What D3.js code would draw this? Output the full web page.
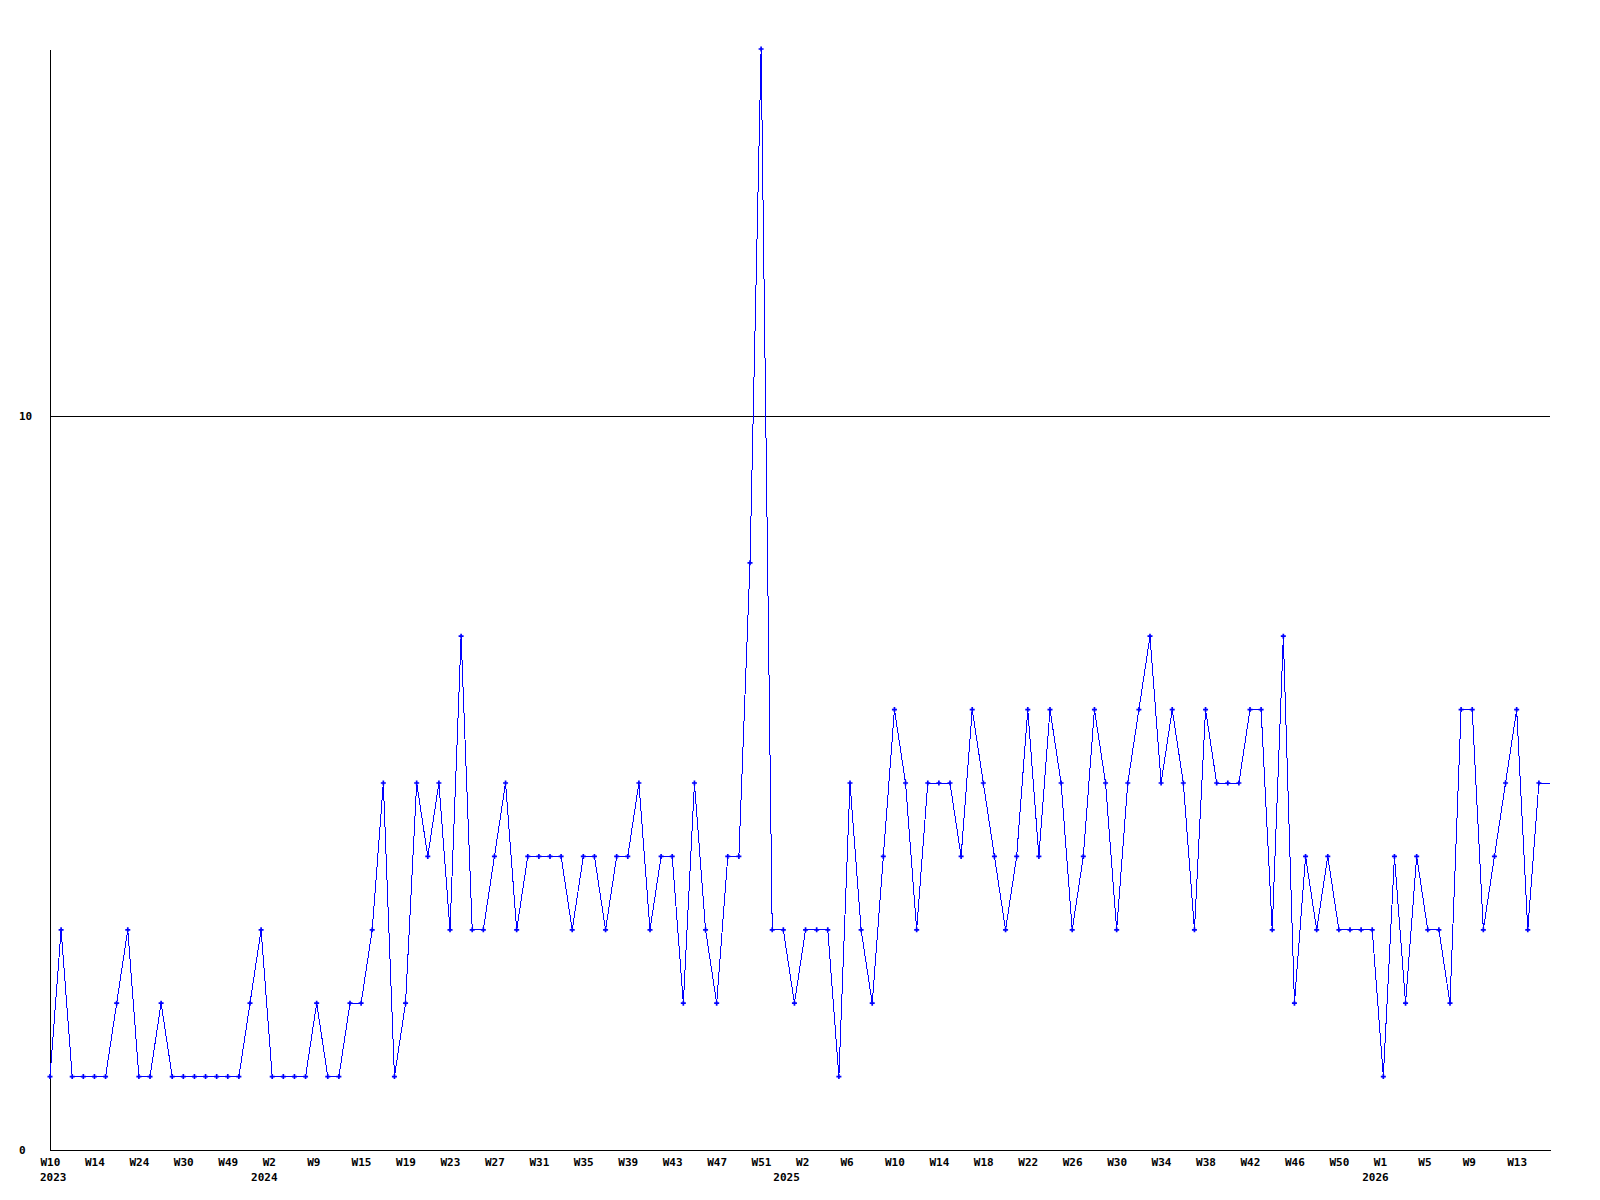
<!DOCTYPE html>
<html lang="en">
  <head>
    <meta charset="UTF-8" />
    <title>Weekly count</title>
    <style>
      body {
        margin: 0;
        background: #fff;
      }
      text {
        font-family: "DejaVu Sans Mono", monospace;
        font-weight: bold;
        font-size: 11px;
        fill: #000;
      }
    </style>
  </head>
  <body>
    <script src="https://d3js.org/d3.v7.min.js"></script>
    <script>

// one value per week that has data
var values = [
  1, 3, 1, 1, 1, 1, 2, 3, 1, 1,
  2, 1, 1, 1, 1, 1, 1, 1, 2, 3,
  1, 1, 1, 1, 2, 1, 1, 2, 2, 3,
  5, 1, 2, 5, 4, 5, 3, 7, 3, 3,
  4, 5, 3, 4, 4, 4, 4, 3, 4, 4,
  3, 4, 4, 5, 3, 4, 4, 2, 5, 3,
  2, 4, 4, 8, 15, 3, 3, 2, 3, 3,
  3, 1, 5, 3, 2, 4, 6, 5, 3, 5,
  5, 5, 4, 6, 5, 4, 3, 4, 6, 4,
  6, 5, 3, 4, 6, 5, 3, 5, 6, 7,
  5, 6, 5, 3, 6, 5, 5, 5, 6, 6,
  3, 7, 2, 4, 3, 4, 3, 3, 3, 3,
  1, 4, 2, 4, 3, 3, 2, 6, 6, 3,
  4, 5, 6, 3, 5, 5
];

// a week label on every 4th point
var weekLabels = [
  "W10", "W14", "W24", "W30", "W49", "W2", "W9", "W15", "W19", "W23",
  "W27", "W31", "W35", "W39", "W43", "W47", "W51", "W2", "W6", "W10",
  "W14", "W18", "W22", "W26", "W30", "W34", "W38", "W42", "W46", "W50",
  "W1", "W5", "W9", "W13"
];

var yearLabels = ["2023", "2024", "2025", "2026"];
var yearStart = [0, 19, 66, 119];

var yTicks = [0, 10];

var width = 1600,
    height = 1200,
    plotLeft = 50,
    plotRight = 1550,
    plotTop = 49,
    plotBottom = 1150;

var svg = d3.select("body").append("svg")
    .attr("width", width)
    .attr("height", height);

var x = d3.scalePoint()
    .domain(d3.range(values.length))
    .range([plotLeft, plotRight]);

var y = d3.scaleLinear()
    .domain([0, d3.max(values)])
    .range([plotBottom, plotTop]);

// y axis + the gridline at 10
var yAxis = svg.append("g")
    .attr("transform", "translate(" + plotLeft + ",0)")
    .call(d3.axisLeft(y)
      .tickValues(yTicks)
      .tickSizeInner(-(plotRight - plotLeft))
      .tickSizeOuter(0)
      .tickFormat(d3.format("d")));

yAxis.select(".domain").attr("stroke", "#000").attr("shape-rendering", "crispEdges");
yAxis.selectAll(".tick line").attr("stroke", "#000").attr("shape-rendering", "crispEdges");
yAxis.selectAll(".tick text")
    .attr("x", -31)
    .attr("dy", "0.35em")
    .attr("text-anchor", "start");
yAxis.attr("font-family", null).attr("font-size", null);

// x axis
var xAxis = svg.append("g")
    .attr("transform", "translate(0," + plotBottom + ")")
    .call(d3.axisBottom(x)
      .tickValues(weekLabels.map(function(d, i) { return i * 4; }))
      .tickSize(0)
      .tickFormat(function(d) { return weekLabels[d / 4]; }));

xAxis.select(".domain").attr("stroke", "#000").attr("shape-rendering", "crispEdges");
xAxis.selectAll(".tick text")
    .attr("x", -10)
    .attr("y", 12)
    .attr("dy", "0.35em")
    .attr("text-anchor", "start");
xAxis.attr("font-family", null).attr("font-size", null);

svg.append("g")
  .selectAll("text")
  .data(yearLabels)
  .enter()
  .append("text")
    .attr("x", function(d, i) { return x(yearStart[i]) - 10; })
    .attr("y", plotBottom + 27)
    .attr("dy", "0.35em")
    .text(function(d) { return d; });

// the series
var line = d3.line()
    .x(function(d, i) { return x(i); })
    .y(function(d) { return y(d); });

svg.append("path")
    .datum(values)
    .attr("fill", "none")
    .attr("stroke", "#0000ff")
    .attr("stroke-width", 1)
    .attr("shape-rendering", "crispEdges")
    .attr("d", line);

// markers, the last (current) week has none
svg.append("g")
  .selectAll("path")
  .data(values.slice(0, values.length - 1))
  .enter()
  .append("path")
    .attr("transform", function(d, i) { return "translate(" + x(i) + "," + y(d) + ")"; })
    .attr("d", d3.symbol(d3.symbolCross, 14))
    .attr("fill", "#0000ff");

    </script>
  </body>
</html>
